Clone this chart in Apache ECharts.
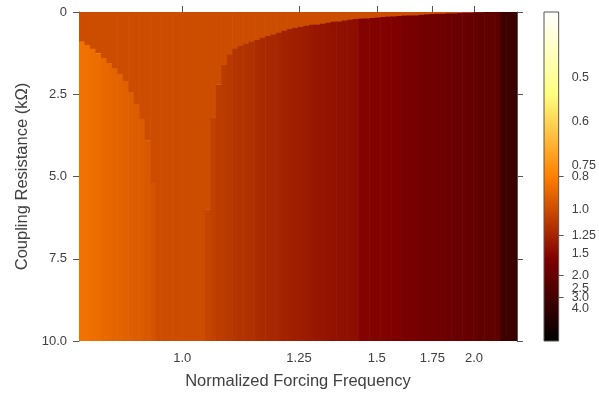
<!DOCTYPE html>
<html><head><meta charset="utf-8">
<script src="https://cdn.jsdelivr.net/npm/echarts@6/dist/echarts.min.js"></script>
<style>html,body{margin:0;padding:0;background:#fff}#c{width:599px;height:395px}</style>
</head><body><div id="c"></div>
<script>
// ---- data ----
const xTickFreqs = [1.0, 1.25, 1.5, 1.75, 2.0];
const freqLeft = 0.8496;   // forcing frequency at the left edge
const freqRight = 2.3458;  // forcing frequency at the right edge
const resistanceMin = 0;
const resistanceMax = 10;
const yInterval = 2.5;
const lockedValue = 1.0;   // 1:1 locked response (colour scale units)
// per column (left -> right) colour value of the uncoupled stripes
const stripeValues = [
  1.186, 1.176, 1.167, 1.157, 1.142, 1.132, 1.12, 1.11, 1.10, 1.09, 1.08, 1.07, 1.055, 1.035,
  1.0, 1.0, 1.0, 1.0, 1.0, 1.0, 1.0, 1.0, 1.0,
  0.96, 0.946, 0.92, 0.91, 0.90, 0.887, 0.877, 0.868, 0.86, 0.843,
  0.833, 0.824, 0.814, 0.804, 0.794, 0.784, 0.775, 0.765, 0.755, 0.745,
  0.735, 0.73, 0.72, 0.71, 0.706, 0.70, 0.696, 0.69,
  0.642, 0.642, 0.642, 0.637, 0.637, 0.632, 0.627, 0.618, 0.598, 0.588,
  0.583, 0.569, 0.559, 0.554, 0.549, 0.539, 0.525, 0.52, 0.51, 0.505,
  0.495, 0.485, 0.48, 0.475, 0.47, 0.46, 0.30, 0.30, 0.29
];
// per column: coupling resistance (kΩ) up to which the response is 1:1 locked
const lockUntil = [
  0.9, 1.0, 1.12, 1.25, 1.4, 1.55, 1.72, 1.9, 2.1, 2.45, 2.8, 3.25, 3.9, 5.2,
  10, 10, 10, 10, 10, 10, 10, 10, 10,
  6.0,
  3.2, 2.2, 1.6, 1.3, 1.12, 1.02, 0.95, 0.9, 0.85, 0.78, 0.73, 0.68, 0.63, 0.57, 0.52, 0.47,
  0.44, 0.42, 0.39, 0.37, 0.35, 0.33, 0.3, 0.28, 0.25, 0.23, 0.21, 0.2, 0.19, 0.18, 0.17,
  0.15, 0.14, 0.13, 0.12, 0.11, 0.1, 0.1, 0.08, 0.07, 0.06, 0.05, 0.05, 0.04, 0.04, 0.03,
  0.02, 0.02, 0.01, 0.01, 0, 0, 0, 0, 0, 0
];
// colour-bar tick labels (split in two sets so none of them gets dropped)
const cbTickLabelsA = [0.5, 0.6, 0.75, 1.0, 1.5, 2.5, 4.0];
const cbTickLabelsB = [0.8, 1.25, 2.0, 3.0];
const cbMin = 0;
const cbMax = 2.5;

// ---- build ----
const FONT = 'Liberation Sans, Arial, sans-serif';
const TXT = '#404040';
const AX = '#555555';
function afmhot(t) {
  t = Math.max(0, Math.min(1, t));
  const c = v => Math.round(255 * Math.max(0, Math.min(1, v)));
  return 'rgb(' + c(2 * t) + ',' + c(2 * t - 0.5) + ',' + c(2 * t - 1) + ')';
}
function fmt(v) {
  const r = Math.round(v * 100) / 100;
  return Math.abs(r * 10 - Math.round(r * 10)) < 1e-6 ? r.toFixed(1) : r.toFixed(2);
}
const pLeft = 1 / freqLeft, pRight = 1 / freqRight;
const n = stripeValues.length;
const dp = (pLeft - pRight) / n;
const cells = [];
for (let i = 0; i < n; i++) {
  const p0 = pLeft - i * dp, p1 = pLeft - (i + 1) * dp;
  const L = Math.min(lockUntil[i], resistanceMax);
  if (L > resistanceMin) cells.push([p0, p1, resistanceMin, L, lockedValue]);
  if (L < resistanceMax) cells.push([p0, p1, L, resistanceMax, stripeValues[i]]);
}
const xTickPeriods = xTickFreqs.map(f => 1 / f);
const cbPosA = cbTickLabelsA.map(v => 1 / v);
const cbPosB = cbTickLabelsB.map(v => 1 / v);

function renderCell(params, api) {
  const a = api.coord([api.value(0), api.value(2)]);
  const b = api.coord([api.value(1), api.value(3)]);
  const x = Math.min(a[0], b[0]), y = Math.min(a[1], b[1]);
  return {
    type: 'rect',
    shape: { x: x, y: y, width: Math.abs(b[0] - a[0]) + 0.6, height: Math.abs(b[1] - a[1]) + 0.3 },
    style: { fill: afmhot(api.value(4) / cbMax) }
  };
}
function renderBar(params, api) {
  const a = api.coord([0, api.value(1)]);
  const b = api.coord([1, api.value(0)]);
  const stops = [0, 0.25, 0.5, 0.75, 1].map(s => ({ offset: s, color: afmhot(1 - s) }));
  return {
    type: 'rect',
    shape: { x: Math.min(a[0], b[0]), y: Math.min(a[1], b[1]), width: Math.abs(b[0] - a[0]), height: Math.abs(b[1] - a[1]) },
    style: { fill: new echarts.graphic.LinearGradient(0, 0, 0, 1, stops), stroke: AX, lineWidth: 1 }
  };
}

const axisLine = { show: true, lineStyle: { color: AX, width: 1 } };
const labelStyle = { color: TXT, fontSize: 13, fontFamily: FONT, hideOverlap: false };
function cbAxis(pos) {
  return {
    gridIndex: 1, type: 'value', min: cbMin, max: cbMax, position: 'right', offset: 0,
    axisLine: { show: false }, splitLine: { show: false },
    axisTick: { show: true, length: 5, customValues: pos, lineStyle: { color: AX } },
    axisLabel: Object.assign({}, labelStyle, { customValues: pos, margin: 13, fontSize: 12.5, formatter: v => fmt(1 / v) })
  };
}
const chart = echarts.init(document.getElementById('c'), null, { renderer: 'canvas' });
chart.setOption({
  animation: false,
  backgroundColor: '#ffffff',
  grid: [
    { left: 79, top: 12, width: 438, height: 329 },
    { left: 544, top: 12, width: 16, height: 329 }
  ],
  xAxis: [
    {
      gridIndex: 0, type: 'value', inverse: true, min: pRight, max: pLeft, position: 'bottom',
      axisLine: axisLine, splitLine: { show: false },
      axisTick: { show: true, length: 6, customValues: xTickPeriods, lineStyle: { color: AX } },
      axisLabel: Object.assign({ customValues: xTickPeriods, margin: 11, formatter: v => fmt(1 / v) }, labelStyle),
      name: 'Normalized Forcing Frequency', nameLocation: 'middle', nameGap: 32,
      nameTextStyle: { color: TXT, fontSize: 16.5, fontFamily: FONT }
    },
    {
      gridIndex: 0, type: 'value', inverse: true, min: pRight, max: pLeft, position: 'top',
      axisLine: axisLine, splitLine: { show: false },
      axisTick: { show: true, length: 6, customValues: xTickPeriods, lineStyle: { color: AX } },
      axisLabel: { show: false }
    },
    { gridIndex: 1, type: 'value', min: 0, max: 1, show: false }
  ],
  yAxis: [
    {
      gridIndex: 0, type: 'value', inverse: true, min: resistanceMin, max: resistanceMax, interval: yInterval,
      position: 'left', axisLine: axisLine, splitLine: { show: false },
      axisTick: { show: true, length: 6, lineStyle: { color: AX } },
      axisLabel: Object.assign({ margin: 12, formatter: v => (v === 0 ? '0' : v.toFixed(1)) }, labelStyle),
      name: 'Coupling Resistance (kΩ)', nameLocation: 'middle', nameGap: 48, nameRotate: 90,
      nameTextStyle: { color: TXT, fontSize: 16.5, fontFamily: FONT }
    },
    {
      gridIndex: 0, type: 'value', inverse: true, min: resistanceMin, max: resistanceMax, interval: yInterval,
      position: 'right', axisLine: axisLine, splitLine: { show: false },
      axisTick: { show: true, length: 6, lineStyle: { color: AX } },
      axisLabel: { show: false }
    },
    cbAxis(cbPosA),
    cbAxis(cbPosB)
  ],
  series: [
    {
      type: 'custom', xAxisIndex: 0, yAxisIndex: 0, clip: true,
      renderItem: renderCell, data: cells,
      encode: { x: [0, 1], y: [2, 3] }, silent: true
    },
    {
      type: 'custom', xAxisIndex: 2, yAxisIndex: 2, clip: false,
      renderItem: renderBar, data: [[cbMin, cbMax]],
      encode: { y: [0, 1] }, silent: true, z: 3
    }
  ]
});
</script>
</body></html>
